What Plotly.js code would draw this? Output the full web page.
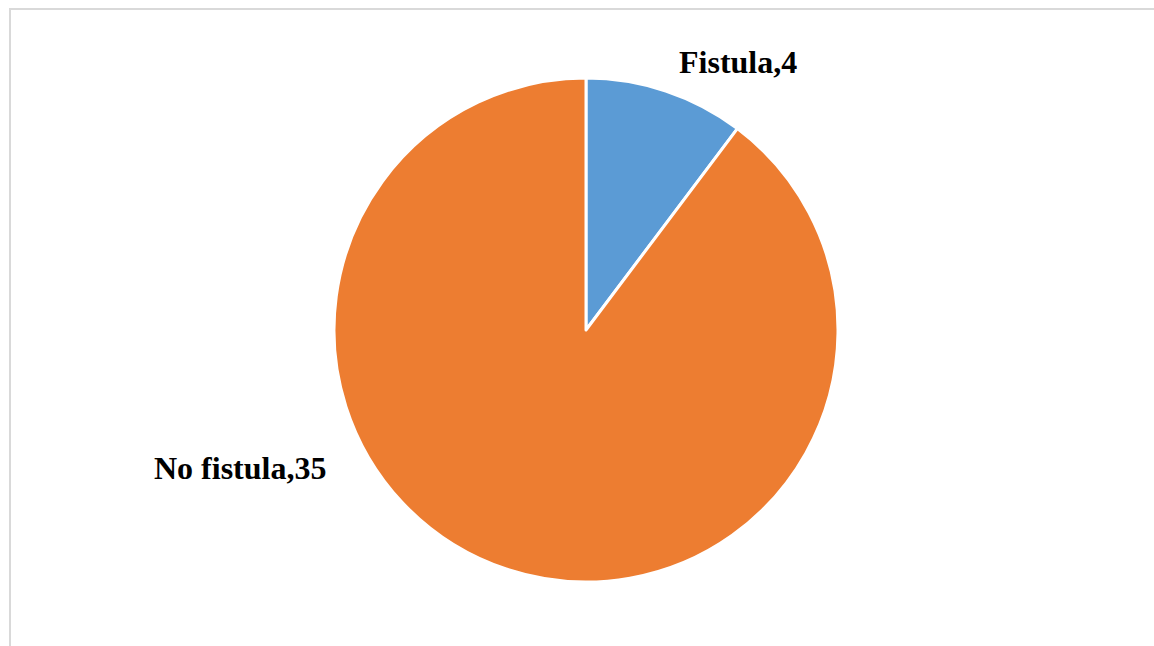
<!DOCTYPE html>
<html>
<head>
<meta charset="utf-8">
<script src="https://cdn.plot.ly/plotly-3.0.1.min.js"></script>
<style>
html,body{margin:0;padding:0;background:#fff;}
#chart{position:absolute;left:0;top:0;width:1154px;height:646px;}
#frame{position:absolute;left:9px;top:8px;width:1145px;height:638px;border-top:2px solid #d9d9d9;border-left:2px solid #d9d9d9;box-sizing:border-box;pointer-events:none;}
</style>
</head>
<body>
<div id="chart"></div>
<div id="frame"></div>
<script>
const categories = ["Fistula", "No fistula"];
const counts = [4, 35];
const colors = ["#5B9BD5", "#ED7D31"];

const labelPos = [
  {x: 0.6338, y: 1.032},
  {x: 0.1954, y: 0.226}
];

const annotations = categories.map((c, i) => ({
  text: c + "," + counts[i],
  xref: "paper", yref: "paper",
  x: labelPos[i].x, y: labelPos[i].y,
  xanchor: "center", yanchor: "middle",
  showarrow: false,
  font: {family: "Liberation Serif, Times New Roman, serif", size: 32, color: "#000000", weight: "bold"}
}));

const data = [{
  type: "pie",
  labels: categories,
  values: counts,
  sort: false,
  direction: "clockwise",
  rotation: 0,
  textinfo: "none",
  hoverinfo: "none",
  marker: {colors: colors, line: {color: "#ffffff", width: 3}},
  showlegend: false
}];

const layout = {
  width: 1154, height: 646,
  margin: {l: 18, r: 0, t: 78, b: 64},
  paper_bgcolor: "#ffffff",
  plot_bgcolor: "#ffffff",
  showlegend: false,
  annotations: annotations
};

Plotly.newPlot("chart", data, layout, {displayModeBar: false, staticPlot: true});
</script>
</body>
</html>
